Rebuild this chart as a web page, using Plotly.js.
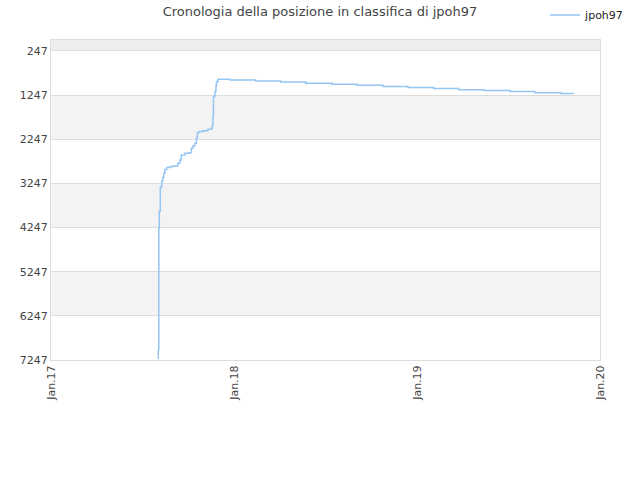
<!DOCTYPE html>
<html>
<head>
<meta charset="utf-8">
<script src="https://cdn.plot.ly/plotly-3.0.1.min.js"></script>
<style>
  html, body { margin: 0; padding: 0; background: #fff; }
  #chart { width: 640px; height: 480px; }
</style>
</head>
<body>
<div id="chart"></div>
<script>
// rank history (step line)
var dates = [
    '2017-08-01', '2017-08-03', '2017-08-04', '2017-08-05', '2017-08-07',
    '2017-08-10', '2017-08-12', '2017-08-14', '2017-08-16', '2017-08-20', '2017-08-26',
    '2017-09-01', '2017-09-11', '2017-09-15', '2017-09-18', '2017-09-25',
    '2017-10-03', '2017-10-08', '2017-10-11', '2017-10-15', '2017-10-18',
    '2017-10-20', '2017-10-23', '2017-10-31', '2017-11-10', '2017-11-17',
    '2017-11-19', '2017-11-20', '2017-11-21', '2017-11-24', '2017-11-26',
    '2017-11-27', '2017-11-30', '2017-12-24', '2018-02-13', '2018-04-04',
    '2018-05-24', '2018-07-15', '2018-09-03', '2018-10-25', '2018-12-14',
    '2019-02-03', '2019-03-25', '2019-05-14', '2019-07-05', '2019-08-24',
    '2019-10-15', '2019-11-10'
];
var ranks = [
    7200, 7020, 4260, 3870, 3330,
    3192, 3110, 3020, 2930, 2886, 2868,
    2852, 2791, 2716, 2603, 2565,
    2551, 2451, 2399, 2338, 2218,
    2098, 2075, 2053, 2021, 1998,
    1923, 1697, 1282, 1169, 1040,
    943, 888, 904, 927, 949,
    979, 1001, 1024, 1051, 1078,
    1101, 1124, 1146, 1169, 1192,
    1214, 1214
];
var playerName = 'jpoh97';

var yTicks = [247, 1247, 2247, 3247, 4247, 5247, 6247, 7247];
var xTicks = ['2017-01-01', '2018-01-01', '2019-01-01', '2020-01-01'];
var xTickLabels = ['Jan.17', 'Jan.18', 'Jan.19', 'Jan.20'];

// alternating background bands
var shapes = [];
shapes.push({type: 'rect', xref: 'paper', yref: 'y', x0: 0, x1: 1, y0: 0, y1: yTicks[0],
    fillcolor: '#eeeeee', line: {width: 0}, layer: 'below'});
for (var i = 1; i < yTicks.length - 1; i += 2) {
    shapes.push({type: 'rect', xref: 'paper', yref: 'y', x0: 0, x1: 1,
        y0: yTicks[i], y1: yTicks[i + 1],
        fillcolor: '#f3f3f3', line: {width: 0}, layer: 'below'});
}

var trace1 = {
    x: dates,
    y: ranks,
    name: playerName,
    mode: 'lines',
    type: 'scatter',
    line: {shape: 'hv', color: '#95c5f3', width: 1.5},
    hoverinfo: 'skip'
};

var layout = {
    width: 640,
    height: 480,
    margin: {l: 51, r: 40, t: 40, b: 120, autoexpand: false},
    paper_bgcolor: '#fff',
    plot_bgcolor: '#fff',
    font: {family: 'DejaVu Sans, sans-serif', size: 11, color: '#444'},
    title: {
        text: 'Cronologia della posizione in classifica di jpoh97',
        font: {size: 13, color: '#444'},
        x: 0.5, xanchor: 'center', y: 0.976, yanchor: 'middle'
    },
    showlegend: true,
    legend: {x: 0.9, xanchor: 'left', y: 1.078, yanchor: 'middle',
        font: {size: 11, color: '#222'}, bgcolor: 'rgba(0,0,0,0)'},
    xaxis: {
        type: 'date',
        range: ['2017-01-01', '2020-01-01'],
        tickmode: 'array',
        tickvals: xTicks,
        ticktext: xTickLabels,
        tickangle: -90,
        showgrid: false,
        zeroline: false,
        showline: true,
        linecolor: '#dddddd',
        mirror: true,
        ticks: ''
    },
    yaxis: {
        range: [7247, 0],
        tickmode: 'array',
        tickvals: yTicks,
        showgrid: true,
        gridcolor: '#dddddd',
        zeroline: false,
        showline: true,
        linecolor: '#dddddd',
        mirror: true,
        ticks: ''
    },
    shapes: shapes
};

Plotly.newPlot('chart', [trace1], layout, {displayModeBar: false, staticPlot: true});
</script>
</body>
</html>
